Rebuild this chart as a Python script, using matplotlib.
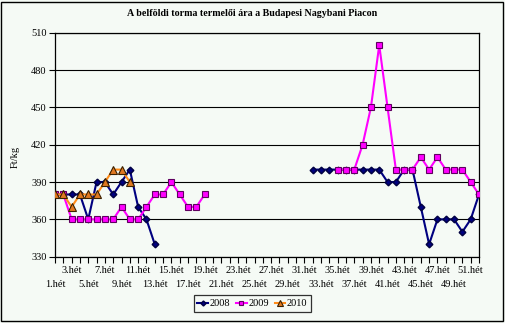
import numpy as np
import matplotlib
matplotlib.use("Agg")
import matplotlib.pyplot as plt
from matplotlib.patches import Rectangle
from matplotlib.ticker import FixedLocator, FuncFormatter

nan = np.nan

weeks = list(range(1, 53))

# Weekly producer prices (Ft/kg); NaN = no quotation that week
price_2008 = ([380, 380, 380, 380, 360, 390, 390, 380, 390, 400, 370, 360, 340]
              + [nan] * 18
              + [400, 400, 400, 400, 400, 400, 400, 400, 400, 390, 390, 400, 400,
                 370, 340, 360, 360, 360, 350, 360, 380])
price_2009 = ([380, 380, 360, 360, 360, 360, 360, 360, 370, 360, 360, 370, 380,
               380, 390, 380, 370, 370, 380]
              + [nan] * 15
              + [400, 400, 400, 420, 450, 500, 450, 400, 400, 400, 410, 400, 410,
                 400, 400, 400, 390, 380])
price_2010 = [380, 380, 370, 380, 380, 380, 390, 400, 400, 390] + [nan] * 42

years = ["2008", "2009", "2010"]
y_ticks = [330, 360, 390, 420, 450, 480, 510]
title = "A belföldi torma termelői ára a Budapesi Nagybani Piacon"
y_label = "Ft/kg"

# Week labels: 1, 5, 9, ... on the lower row; 3, 7, 11, ... on the upper row
lower_weeks = [w for w in weeks if w % 4 == 1]
other_weeks = [w for w in weeks if w % 4 != 1]


def week_label(v, pos=None):
    w = int(round(v))
    return "%d.hét" % w


def upper_label(v, pos=None):
    w = int(round(v))
    return "%d.hét" % w if w % 4 == 3 else ""


bg = "#F5FAF5"
serif = ["Liberation Serif", "DejaVu Serif"]
plt.rcParams["font.family"] = serif

fig = plt.figure(figsize=(5.05, 3.23), dpi=100, facecolor=bg)
ax = fig.add_axes([55 / 505, (323 - 256.7) / 323, 424 / 505, 224 / 323])
ax.set_facecolor(bg)

ax.plot(weeks, price_2008, color="#000080", lw=1.5, marker="D", ms=3.4,
        mfc="#000080", mec="#000040", label=years[0], zorder=3)
ax.plot(weeks, price_2009, color="#FF00FF", lw=1.5, marker="s", ms=4.8,
        mfc="#FF00FF", mec="#600060", mew=0.8, label=years[1], zorder=3)
ax.plot(weeks, price_2010, color="#FF8C1A", lw=1.5, marker="^", ms=6.3,
        mfc="#E07820", mec="#3A2000", mew=0.8, label=years[2], zorder=4)

ax.set_xlim(1, 52)
ax.set_ylim(y_ticks[0], y_ticks[-1])
ax.set_yticks(y_ticks)
ax.set_yticklabels([str(v) for v in y_ticks], fontsize=7.5)

ax.xaxis.set_major_locator(FixedLocator(lower_weeks))
ax.xaxis.set_major_formatter(FuncFormatter(week_label))
ax.xaxis.set_minor_locator(FixedLocator(other_weeks))
ax.xaxis.set_minor_formatter(FuncFormatter(upper_label))
ax.tick_params(axis="x", which="both", direction="out", length=4, width=0.8,
               labelsize=7.5)
ax.tick_params(axis="x", which="minor", pad=3)
ax.tick_params(axis="x", which="major", pad=12.5)
ax.tick_params(axis="y", direction="out", length=4, width=0.8, pad=2)
ax.grid(axis="y", color="black", lw=0.8)
ax.set_axisbelow(True)
for s in ax.spines.values():
    s.set_color("black")
    s.set_linewidth(0.9)

ax.set_ylabel(y_label, fontsize=7.5)
ax.yaxis.set_label_coords(-35 / 424, 0.445)

fig.text(0.5, (323 - 13) / 323, title, ha="center", va="center",
         fontsize=7.2, fontweight="bold")

leg = fig.legend(loc="center", bbox_to_anchor=(0.5, (323 - 303.5) / 323),
                 ncol=3, fontsize=7.5, frameon=True, fancybox=False,
                 handlelength=1.0, handletextpad=0.15, columnspacing=0.6,
                 borderpad=0.35, markerscale=0.75)
leg.get_frame().set_edgecolor("black")
leg.get_frame().set_linewidth(0.9)
leg.get_frame().set_facecolor(bg)

fig.patches.append(Rectangle((1 / 505, 2 / 323), 502 / 505, 319 / 323,
                             transform=fig.transFigure, fill=False,
                             edgecolor="black", lw=1.0))

fig.savefig("out.png", dpi=100, facecolor=bg)
